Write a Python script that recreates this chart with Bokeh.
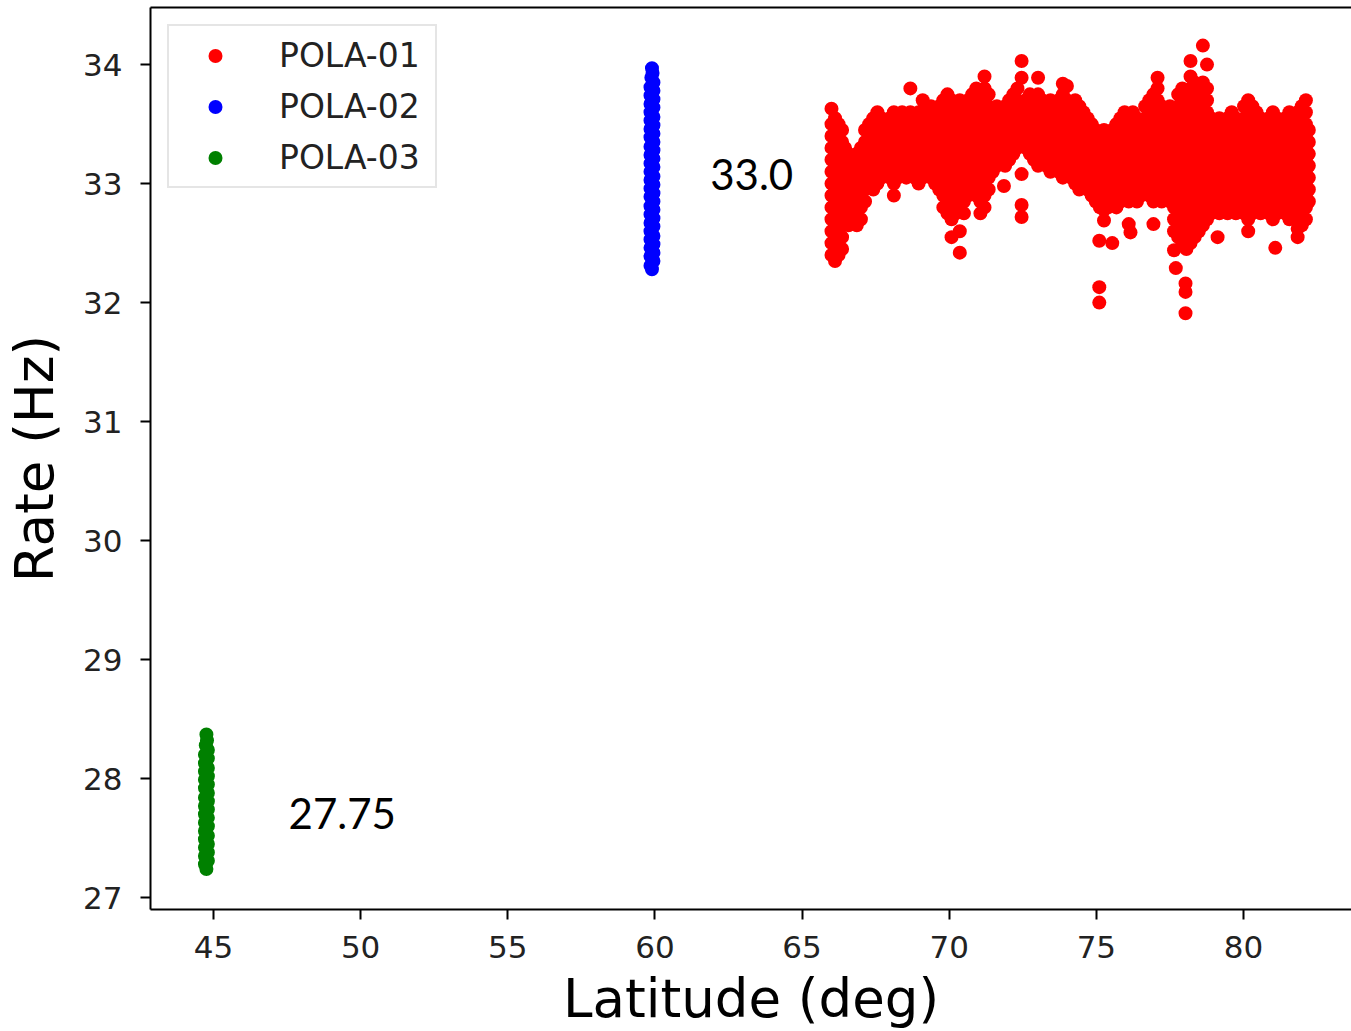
from bokeh.plotting import figure
from bokeh.models import Range1d, LinearAxis, FixedTicker, Legend, LegendItem, ColumnDataSource
from bokeh.core.properties import value
from bokeh.embed import file_html
from bokeh.resources import INLINE

# ---------------- data ----------------
# POLA-01 (red cloud): latitude columns, each with the rates read at that latitude
pola01_columns = [
    (66.00, [32.4, 32.5, 32.6, 32.7, 32.8, 32.9, 33.0, 33.1, 33.2, 33.3, 33.4, 33.5, 33.63]),
    (66.12, [32.35, 32.45, 32.55, 32.65, 32.75, 32.85, 32.95, 33.05, 33.15, 33.25, 33.35, 33.45, 33.55]),
    (66.24, [32.4, 32.5, 32.6, 32.7, 32.8, 32.9, 33.0, 33.1, 33.2, 33.3, 33.4, 33.5]),
    (66.36, [32.45, 32.55, 32.65, 32.75, 32.85, 32.95, 33.05, 33.15, 33.25, 33.35, 33.45]),
    (66.46, [32.7, 32.8, 32.9, 33.0, 33.1, 33.2, 33.3]),
    (66.58, [32.65, 32.75, 32.85, 32.95, 33.05, 33.15, 33.25]),
    (66.72, [32.7, 32.8, 32.9, 33.0, 33.1, 33.2]),
    (66.86, [32.65, 32.75, 32.85, 32.95, 33.05, 33.15, 33.25]),
    (67.00, [32.7, 32.8, 32.9, 33.0, 33.1, 33.2, 33.3]),
    (67.14, [32.85, 32.95, 33.05, 33.15, 33.25, 33.35, 33.45]),
    (67.28, [33.0, 33.1, 33.2, 33.3, 33.4, 33.5]),
    (67.42, [32.95, 33.05, 33.15, 33.25, 33.35, 33.45, 33.55]),
    (67.56, [33.0, 33.1, 33.2, 33.3, 33.4, 33.5, 33.6]),
    (67.70, [33.05, 33.15, 33.25, 33.35, 33.45, 33.55]),
    (67.84, [33.1, 33.2, 33.3, 33.4, 33.5]),
    (67.98, [33.05, 33.15, 33.25, 33.35, 33.45, 33.55]),
    (68.12, [32.9, 33.0, 33.1, 33.2, 33.3, 33.4, 33.5, 33.6]),
    (68.26, [33.05, 33.15, 33.25, 33.35, 33.45, 33.55]),
    (68.40, [33.1, 33.2, 33.3, 33.4, 33.5, 33.6]),
    (68.54, [33.05, 33.15, 33.25, 33.35, 33.45, 33.55]),
    (68.68, [33.1, 33.2, 33.3, 33.4, 33.5, 33.6, 33.8]),
    (68.82, [33.05, 33.15, 33.25, 33.35, 33.45, 33.55]),
    (68.96, [33.0, 33.1, 33.2, 33.3, 33.4, 33.5, 33.6]),
    (69.10, [33.05, 33.15, 33.25, 33.35, 33.45, 33.55, 33.7]),
    (69.24, [33.1, 33.2, 33.3, 33.4, 33.5, 33.6]),
    (69.38, [33.05, 33.15, 33.25, 33.35, 33.45, 33.55, 33.65]),
    (69.52, [33.0, 33.1, 33.2, 33.3, 33.4, 33.5, 33.6]),
    (69.66, [32.95, 33.05, 33.15, 33.25, 33.35, 33.45, 33.55, 33.65]),
    (69.80, [32.8, 32.9, 33.0, 33.1, 33.2, 33.3, 33.4, 33.5, 33.6, 33.7]),
    (69.94, [32.75, 32.85, 32.95, 33.05, 33.15, 33.25, 33.35, 33.45, 33.55, 33.65, 33.75]),
    (70.08, [32.55, 32.7, 32.8, 32.9, 33.0, 33.1, 33.2, 33.3, 33.4, 33.5, 33.6, 33.7]),
    (70.22, [32.75, 32.85, 32.95, 33.05, 33.15, 33.25, 33.35, 33.45, 33.55, 33.65]),
    (70.36, [32.42, 32.6, 32.8, 32.9, 33.0, 33.1, 33.2, 33.3, 33.4, 33.5, 33.6, 33.7]),
    (70.50, [32.75, 32.85, 32.95, 33.05, 33.15, 33.25, 33.35, 33.45, 33.55, 33.65]),
    (70.64, [32.9, 33.0, 33.1, 33.2, 33.3, 33.4, 33.5, 33.6, 33.7]),
    (70.78, [32.95, 33.05, 33.15, 33.25, 33.35, 33.45, 33.55, 33.65, 33.75]),
    (70.92, [32.9, 33.0, 33.1, 33.2, 33.3, 33.4, 33.5, 33.6, 33.7, 33.8]),
    (71.06, [32.75, 32.85, 32.95, 33.05, 33.15, 33.25, 33.35, 33.45, 33.55, 33.65, 33.75]),
    (71.20, [32.8, 32.9, 33.0, 33.1, 33.2, 33.3, 33.4, 33.5, 33.6, 33.7, 33.8, 33.9]),
    (71.34, [32.95, 33.05, 33.15, 33.25, 33.35, 33.45, 33.55, 33.65, 33.75]),
    (71.48, [33.1, 33.2, 33.3, 33.4, 33.5, 33.6]),
    (71.62, [33.15, 33.25, 33.35, 33.45, 33.55, 33.65]),
    (71.76, [33.2, 33.3, 33.4, 33.5, 33.6]),
    (71.86, [32.98]),
    (71.90, [33.15, 33.25, 33.35, 33.45, 33.55, 33.65]),
    (72.04, [33.2, 33.3, 33.4, 33.5, 33.6, 33.7]),
    (72.18, [33.25, 33.35, 33.45, 33.55, 33.65, 33.75]),
    (72.32, [33.3, 33.4, 33.5, 33.6, 33.7, 33.8]),
    (72.46, [32.72, 32.82, 33.08, 33.35, 33.45, 33.55, 33.65, 33.89, 34.03]),
    (72.60, [33.3, 33.4, 33.5, 33.6, 33.7]),
    (72.74, [33.25, 33.35, 33.45, 33.55, 33.65, 33.75]),
    (72.88, [33.2, 33.3, 33.4, 33.5, 33.6, 33.7]),
    (73.02, [33.15, 33.25, 33.35, 33.45, 33.55, 33.65, 33.75, 33.89]),
    (73.16, [33.2, 33.3, 33.4, 33.5, 33.6, 33.7]),
    (73.30, [33.15, 33.25, 33.35, 33.45, 33.55, 33.65]),
    (73.44, [33.1, 33.2, 33.3, 33.4, 33.5, 33.6, 33.7]),
    (73.58, [33.15, 33.25, 33.35, 33.45, 33.55, 33.65]),
    (73.72, [33.1, 33.2, 33.3, 33.4, 33.5, 33.6, 33.7]),
    (73.86, [33.05, 33.15, 33.25, 33.35, 33.45, 33.55, 33.65, 33.75, 33.84]),
    (74.00, [33.1, 33.2, 33.3, 33.4, 33.5, 33.6, 33.7, 33.82]),
    (74.14, [33.05, 33.15, 33.25, 33.35, 33.45, 33.55, 33.65]),
    (74.28, [33.0, 33.1, 33.2, 33.3, 33.4, 33.5, 33.6, 33.7]),
    (74.42, [32.95, 33.05, 33.15, 33.25, 33.35, 33.45, 33.55, 33.65]),
    (74.56, [33.0, 33.1, 33.2, 33.3, 33.4, 33.5, 33.6]),
    (74.70, [32.95, 33.05, 33.15, 33.25, 33.35, 33.45, 33.55]),
    (74.84, [32.9, 33.0, 33.1, 33.2, 33.3, 33.4, 33.5]),
    (74.98, [32.85, 32.95, 33.05, 33.15, 33.25, 33.35, 33.45]),
    (75.10, [32.0, 32.13, 32.52]),
    (75.12, [32.8, 32.9, 33.0, 33.1, 33.2, 33.3, 33.4]),
    (75.26, [32.69, 32.78, 32.85, 32.95, 33.05, 33.15, 33.25, 33.35, 33.45]),
    (75.40, [32.8, 32.9, 33.0, 33.1, 33.2, 33.3, 33.4]),
    (75.54, [32.5, 32.85, 32.95, 33.05, 33.15, 33.25, 33.35, 33.45]),
    (75.68, [32.8, 32.9, 33.0, 33.1, 33.2, 33.3, 33.4, 33.5]),
    (75.82, [32.85, 32.95, 33.05, 33.15, 33.25, 33.35, 33.45, 33.55]),
    (75.96, [32.9, 33.0, 33.1, 33.2, 33.3, 33.4, 33.5, 33.6]),
    (76.10, [32.66, 32.85, 32.95, 33.05, 33.15, 33.25, 33.35, 33.45, 33.55]),
    (76.16, [32.59]),
    (76.24, [32.9, 33.0, 33.1, 33.2, 33.3, 33.4, 33.5, 33.6]),
    (76.38, [32.85, 32.95, 33.05, 33.15, 33.25, 33.35, 33.45, 33.55]),
    (76.52, [32.9, 33.0, 33.1, 33.2, 33.3, 33.4, 33.5]),
    (76.66, [32.95, 33.05, 33.15, 33.25, 33.35, 33.45, 33.55, 33.65]),
    (76.80, [32.9, 33.0, 33.1, 33.2, 33.3, 33.4, 33.5, 33.6, 33.7]),
    (76.94, [32.66, 32.85, 32.95, 33.05, 33.15, 33.25, 33.35, 33.45, 33.55, 33.65, 33.75]),
    (77.08, [32.9, 33.0, 33.1, 33.2, 33.3, 33.4, 33.5, 33.6, 33.7, 33.8, 33.89]),
    (77.22, [32.85, 32.95, 33.05, 33.15, 33.25, 33.35, 33.45, 33.55, 33.65]),
    (77.36, [32.9, 33.0, 33.1, 33.2, 33.3, 33.4, 33.5, 33.6]),
    (77.50, [32.85, 32.95, 33.05, 33.15, 33.25, 33.35, 33.45, 33.55, 33.65]),
    (77.64, [32.44, 32.6, 32.7, 32.8, 32.9, 33.0, 33.1, 33.2, 33.3, 33.4, 33.5, 33.6]),
    (77.70, [32.29]),
    (77.78, [32.55, 32.65, 32.75, 32.85, 32.95, 33.05, 33.15, 33.25, 33.35, 33.45, 33.55, 33.65, 33.75]),
    (77.92, [32.5, 32.6, 32.7, 32.8, 32.9, 33.0, 33.1, 33.2, 33.3, 33.4, 33.5, 33.6, 33.7, 33.8]),
    (78.03, [31.91, 32.09, 32.16]),
    (78.06, [32.45, 32.55, 32.65, 32.75, 32.85, 32.95, 33.05, 33.15, 33.25, 33.35, 33.45, 33.55, 33.65, 33.75]),
    (78.20, [32.5, 32.6, 32.7, 32.8, 32.9, 33.0, 33.1, 33.2, 33.3, 33.4, 33.5, 33.6, 33.7, 33.8, 33.9, 34.03]),
    (78.34, [32.55, 32.65, 32.75, 32.85, 32.95, 33.05, 33.15, 33.25, 33.35, 33.45, 33.55, 33.65, 33.75, 33.85]),
    (78.48, [32.6, 32.7, 32.8, 32.9, 33.0, 33.1, 33.2, 33.3, 33.4, 33.5, 33.6, 33.7, 33.8]),
    (78.62, [32.65, 32.75, 32.85, 32.95, 33.05, 33.15, 33.25, 33.35, 33.45, 33.55, 33.65, 33.75, 33.85, 34.16]),
    (78.76, [32.7, 32.8, 32.9, 33.0, 33.1, 33.2, 33.3, 33.4, 33.5, 33.6, 33.7, 33.8, 34.0]),
    (78.90, [32.75, 32.85, 32.95, 33.05, 33.15, 33.25, 33.35, 33.45, 33.55]),
    (79.04, [32.8, 32.9, 33.0, 33.1, 33.2, 33.3, 33.4, 33.5]),
    (79.12, [32.55]),
    (79.18, [32.75, 32.85, 32.95, 33.05, 33.15, 33.25, 33.35, 33.45, 33.55]),
    (79.32, [32.8, 32.9, 33.0, 33.1, 33.2, 33.3, 33.4, 33.5]),
    (79.46, [32.75, 32.85, 32.95, 33.05, 33.15, 33.25, 33.35, 33.45, 33.55]),
    (79.60, [32.8, 32.9, 33.0, 33.1, 33.2, 33.3, 33.4, 33.5, 33.6]),
    (79.74, [32.75, 32.85, 32.95, 33.05, 33.15, 33.25, 33.35, 33.45, 33.55]),
    (79.88, [32.8, 32.9, 33.0, 33.1, 33.2, 33.3, 33.4, 33.5]),
    (80.02, [32.75, 32.85, 32.95, 33.05, 33.15, 33.25, 33.35, 33.45, 33.55, 33.65]),
    (80.16, [32.6, 32.7, 32.8, 32.9, 33.0, 33.1, 33.2, 33.3, 33.4, 33.5, 33.6, 33.7]),
    (80.30, [32.75, 32.85, 32.95, 33.05, 33.15, 33.25, 33.35, 33.45, 33.55, 33.65]),
    (80.44, [32.8, 32.9, 33.0, 33.1, 33.2, 33.3, 33.4, 33.5, 33.6]),
    (80.58, [32.75, 32.85, 32.95, 33.05, 33.15, 33.25, 33.35, 33.45, 33.55]),
    (80.72, [32.8, 32.9, 33.0, 33.1, 33.2, 33.3, 33.4, 33.5]),
    (80.86, [32.75, 32.85, 32.95, 33.05, 33.15, 33.25, 33.35, 33.45, 33.55]),
    (81.00, [32.7, 32.8, 32.9, 33.0, 33.1, 33.2, 33.3, 33.4, 33.5, 33.6]),
    (81.08, [32.46]),
    (81.14, [32.75, 32.85, 32.95, 33.05, 33.15, 33.25, 33.35, 33.45, 33.55]),
    (81.28, [32.8, 32.9, 33.0, 33.1, 33.2, 33.3, 33.4, 33.5]),
    (81.42, [32.75, 32.85, 32.95, 33.05, 33.15, 33.25, 33.35, 33.45, 33.55]),
    (81.56, [32.7, 32.8, 32.9, 33.0, 33.1, 33.2, 33.3, 33.4, 33.5, 33.6]),
    (81.70, [32.75, 32.85, 32.95, 33.05, 33.15, 33.25, 33.35, 33.45, 33.55]),
    (81.84, [32.55, 32.62, 32.7, 32.8, 32.9, 33.0, 33.1, 33.2, 33.3, 33.4, 33.5, 33.6]),
    (81.98, [32.65, 32.75, 32.85, 32.95, 33.05, 33.15, 33.25, 33.35, 33.45, 33.55, 33.65]),
    (82.12, [32.7, 32.8, 32.9, 33.0, 33.1, 33.2, 33.3, 33.4, 33.5, 33.6, 33.7]),
    (82.22, [32.85, 32.95, 33.05, 33.15, 33.25, 33.35, 33.45]),
]

# POLA-02 (blue stripe near 59.9 deg)
pola02_lat = [59.9, 59.85, 59.95, 59.85, 59.95, 59.85, 59.95, 59.85, 59.95, 59.85,
              59.95, 59.85, 59.95, 59.85, 59.95, 59.85, 59.95, 59.85, 59.95, 59.85,
              59.95, 59.85, 59.95, 59.85, 59.95, 59.85, 59.95, 59.85, 59.95, 59.85,
              59.95, 59.85, 59.95, 59.85, 59.95, 59.85, 59.95, 59.85, 59.95, 59.85,
              59.95, 59.85, 59.95, 59.85, 59.95, 59.88, 59.92, 59.9]
pola02_rate = [32.28, 32.31, 32.35, 32.39, 32.42, 32.46, 32.49, 32.53, 32.56, 32.6,
               32.64, 32.67, 32.71, 32.74, 32.78, 32.81, 32.85, 32.89, 32.92, 32.96,
               32.99, 33.03, 33.06, 33.1, 33.14, 33.17, 33.21, 33.24, 33.28, 33.31,
               33.35, 33.39, 33.42, 33.46, 33.49, 33.53, 33.56, 33.6, 33.64, 33.67,
               33.71, 33.74, 33.78, 33.81, 33.85, 33.89, 33.93, 33.97]

# POLA-03 (green stripe near 44.76 deg)
pola03_lat = [44.76, 44.71, 44.81, 44.71, 44.81, 44.71, 44.81, 44.71, 44.81, 44.71,
              44.81, 44.71, 44.81, 44.71, 44.81, 44.71, 44.81, 44.71, 44.81, 44.71,
              44.81, 44.71, 44.81, 44.71, 44.81, 44.71, 44.81, 44.71, 44.81, 44.74,
              44.78, 44.76]
pola03_rate = [27.24, 27.28, 27.31, 27.35, 27.38, 27.42, 27.45, 27.49, 27.52, 27.56,
               27.6, 27.63, 27.67, 27.7, 27.74, 27.77, 27.81, 27.84, 27.88, 27.92,
               27.95, 27.99, 28.02, 28.06, 28.09, 28.13, 28.17, 28.2, 28.24, 28.28,
               28.32, 28.37]

series_names = ["POLA-01", "POLA-02", "POLA-03"]
series_colors = ["#ff0000", "#0000ff", "#008000"]

note_lat = [61.88, 47.55]
note_rate = [33.08, 27.71]
note_text = ["33.0", "27.75"]

x_ticks = [45, 50, 55, 60, 65, 70, 75, 80]
y_ticks = [27, 28, 29, 30, 31, 32, 33, 34]

pola01_lat = [c[0] for c in pola01_columns for _ in c[1]]
pola01_rate = [v for c in pola01_columns for v in c[1]]

# ---------------- figure ----------------
p = figure(width=1351, height=1031, output_backend="svg", toolbar_location=None,
           x_range=Range1d(42.86, 83.67), y_range=Range1d(26.9, 34.48),
           min_border_left=150, min_border_right=0, min_border_top=7, min_border_bottom=121)
p.background_fill_color = "white"
p.border_fill_color = "white"
p.outline_line_color = None
p.xgrid.visible = False
p.ygrid.visible = False

MS = 14
r1 = p.scatter(pola01_lat, pola01_rate, size=MS, color=series_colors[0], line_color=None)
r2 = p.scatter(pola02_lat, pola02_rate, size=MS, color=series_colors[1], line_color=None)
r3 = p.scatter(pola03_lat, pola03_rate, size=MS, color=series_colors[2], line_color=None)

src = ColumnDataSource(dict(x=note_lat, y=note_rate, t=note_text))
p.text(x="x", y="y", text="t", source=src, text_font=value("Lato"), text_font_size="42px",
       text_color="black", text_align="left", text_baseline="middle")

tick_font = "DejaVu Sans"
for ax, ticks in ((p.xaxis[0], x_ticks), (p.yaxis[0], y_ticks)):
    ax.ticker = FixedTicker(ticks=ticks)
    ax.axis_line_width = 2
    ax.axis_line_color = "black"
    ax.major_tick_line_width = 2
    ax.major_tick_line_color = "black"
    ax.major_tick_out = 10
    ax.major_tick_in = 0
    ax.minor_tick_line_color = None
    ax.major_label_text_font = tick_font
    ax.major_label_text_font_size = "31px"
    ax.major_label_text_color = "#222222"
    ax.axis_label_text_font = tick_font
    ax.axis_label_text_font_size = "53px"
    ax.axis_label_text_font_style = "normal"
    ax.axis_label_text_color = "black"

p.xaxis[0].axis_label = "Latitude (deg)"
p.xaxis[0].major_label_standoff = 16
p.xaxis[0].axis_label_standoff = 7
p.yaxis[0].axis_label = "Rate (Hz)"
p.yaxis[0].major_label_standoff = 18
p.yaxis[0].axis_label_standoff = 15

top_axis = LinearAxis(ticker=FixedTicker(ticks=[]), axis_line_width=2, axis_line_color="black",
                      major_tick_line_color=None, minor_tick_line_color=None)
p.add_layout(top_axis, "above")

legend = Legend(items=[LegendItem(label=series_names[0], renderers=[r1]),
                       LegendItem(label=series_names[1], renderers=[r2]),
                       LegendItem(label=series_names[2], renderers=[r3])],
                location="top_left", margin=17, padding=9,
                glyph_width=74, glyph_height=35, label_height=40, label_width=147,
                label_standoff=27, spacing=11,
                label_text_font=tick_font, label_text_font_size="33px", label_text_color="#222222",
                border_line_color="#cccccc", border_line_width=2, background_fill_color="white",
                background_fill_alpha=0.9)
p.add_layout(legend)

open("out.html", "w").write(file_html(p, INLINE))
